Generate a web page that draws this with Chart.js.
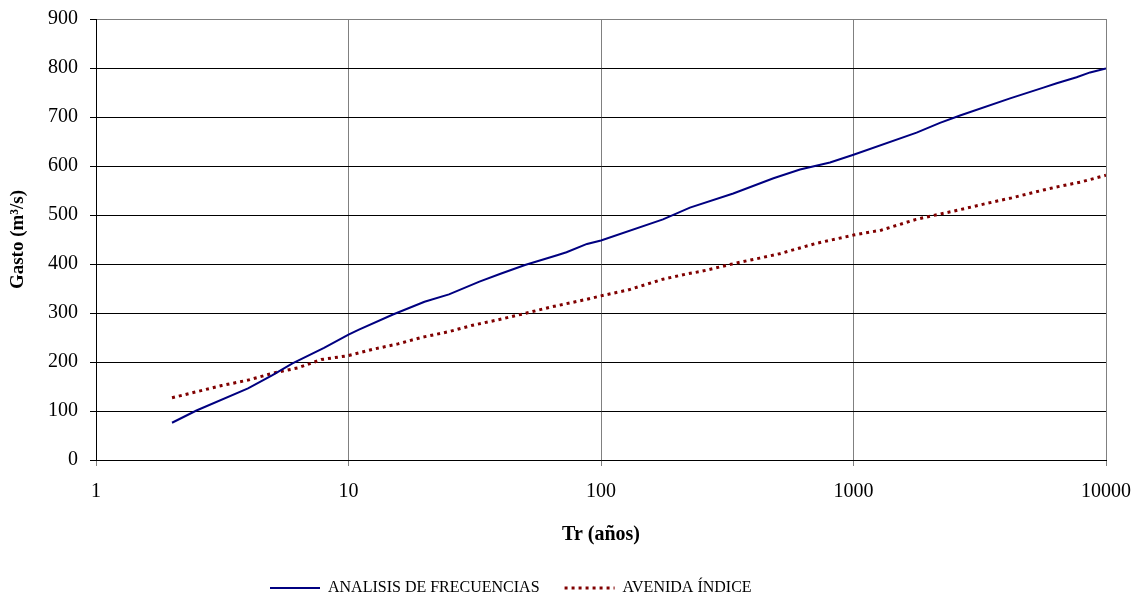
<!DOCTYPE html>
<html>
<head>
<meta charset="utf-8">
<script src="https://cdn.jsdelivr.net/npm/chart.js@4/dist/chart.umd.min.js"></script>
<style>
html,body{margin:0;padding:0;background:#fff;}
#wrap{width:1141px;height:602px;}
</style>
</head>
<body>
<div id="wrap"><canvas id="c" width="1141" height="602"></canvas></div>
<script>
// Tr (años) values and Gasto (m3/s) values
const trAnalisis = [2, 2.5, 4, 5, 6, 8, 10, 11, 15, 20, 25, 33, 40, 50, 67, 73, 88, 100, 176, 225, 334, 482, 614, 807, 1000, 1778, 2200, 2642, 4170, 5650, 6380, 7650, 8650, 10000];
const gastoAnalisis = [76, 101, 146, 173, 197, 229, 256, 266, 297, 323, 338, 364, 380, 398, 418, 424, 441, 448, 491, 515, 544, 575, 593, 607, 623, 668, 688, 703, 738, 760, 769, 781, 791, 799];

const trIndice = [2, 3.15, 4, 5, 6.3, 7.8, 10, 12.5, 15.7, 19.4, 25, 31, 39, 49, 63, 88, 100, 128, 176, 220, 250, 343, 425, 510, 710, 1000, 1286, 1770, 2200, 2450, 3390, 4230, 5650, 6350, 7900, 10000];
const gastoIndice = [127, 152, 163, 177, 188, 205, 213, 226, 237, 250, 262, 275, 286, 298, 312, 328, 335, 347, 369, 380, 385, 402, 412, 421, 442, 459, 469, 491, 502, 507, 524, 535, 551, 557, 567, 581];

const xTicks = [1, 10, 100, 1000, 10000];
const seriesNames = ['ANALISIS DE FRECUENCIAS', 'AVENIDA ÍNDICE'];

const FAM = "'Liberation Serif', 'Times New Roman', serif";

function toPoints(xs, ys) { return xs.map((x, i) => ({x: x, y: ys[i]})); }

const legendShift = {
  id: 'legendShift',
  afterLayout(chart) { if (chart.legend) { chart.legend.left = 245; } }
};

new Chart(document.getElementById('c'), {
  type: 'line',
  data: {
    datasets: [
      {
        label: seriesNames[0],
        data: toPoints(trAnalisis, gastoAnalisis),
        borderColor: '#000080',
        backgroundColor: '#000080',
        borderWidth: 2,
        pointRadius: 0, pointHoverRadius: 0,
        pointStyle: 'line', pointBorderWidth: 2,
        tension: 0, fill: false
      },
      {
        label: seriesNames[1],
        data: toPoints(trIndice, gastoIndice),
        borderColor: '#800000',
        backgroundColor: '#800000',
        borderWidth: 3,
        borderDash: [3, 4],
        pointRadius: 0, pointHoverRadius: 0,
        pointStyle: 'line', pointBorderWidth: 3,
        tension: 0, fill: false
      }
    ]
  },
  options: {
    responsive: false,
    animation: false,
    layout: { padding: { top: 19, right: 35, bottom: -4, left: 0 } },
    scales: {
      x: {
        type: 'logarithmic',
        min: 1, max: 10000,
        afterBuildTicks: s => { s.ticks = xTicks.map(v => ({value: v})); },
        afterFit: s => { s.height = 95; s.paddingLeft = 0; s.paddingRight = 0; },
        ticks: {
          callback: v => String(v),
          font: { family: FAM, size: 20 },
          color: '#000',
          padding: 14,
          maxRotation: 0,
          autoSkip: false
        },
        grid: { color: '#808080', lineWidth: 1, tickLength: 6, tickColor: '#808080' },
        border: { color: '#000', width: 1 },
        title: {
          display: true, text: 'Tr (años)', color: '#000',
          font: { family: FAM, size: 20, weight: 'bold' },
          padding: { top: 0, bottom: 8 }
        }
      },
      y: {
        min: 0, max: 900,
        afterFit: s => { s.width = 96; s.paddingTop = 0; s.paddingBottom = 0; },
        ticks: {
          stepSize: 100,
          font: { family: FAM, size: 20 },
          color: '#000',
          padding: 12
        },
        grid: {
          color: ctx => (ctx.tick && ctx.tick.value === 900) ? '#808080' : '#000',
          lineWidth: 1, tickLength: 6, tickColor: '#000'
        },
        border: { color: '#000', width: 1 },
        title: {
          display: true, text: 'Gasto (m³/s)', color: '#000',
          font: { family: FAM, size: 19, weight: 'bold' },
          padding: { top: 7, bottom: 0 }
        }
      }
    },
    plugins: {
      legend: {
        position: 'bottom',
        align: 'start',
        labels: {
          usePointStyle: true,
          pointStyleWidth: 50,
          padding: 25,
          color: '#000',
          font: { family: FAM, size: 16 },
          generateLabels: chart => {
            const items = Chart.defaults.plugins.legend.labels.generateLabels(chart);
            return items.map(it => {
              const ds = chart.data.datasets[it.datasetIndex];
              it.lineDash = ds.borderDash || [];
              it.lineWidth = ds.borderWidth;
              it.strokeStyle = ds.borderColor;
              it.fillStyle = ds.borderColor;
              it.pointStyle = 'line';
              return it;
            });
          }
        }
      },
      tooltip: { enabled: false }
    }
  },
  plugins: [legendShift]
});
</script>
</body>
</html>
